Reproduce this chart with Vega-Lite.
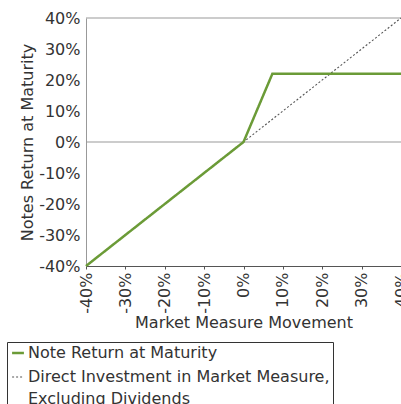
{
  "$schema": "https://vega.github.io/schema/vega-lite/v6.json",
  "autosize": "none",
  "width": 315,
  "height": 248,
  "padding": {"left": 86, "top": 18, "right": 0, "bottom": 138},
  "config": {
    "font": "DejaVu Sans",
    "view": {"stroke": null},
    "axis": {"labelFont": "DejaVu Sans", "titleFont": "DejaVu Sans", "labelFontSize": 16, "titleFontSize": 16, "titleFontWeight": "normal", "labelColor": "#333333", "titleColor": "#333333", "grid": false, "labelOverlap": false}
  },
  "datasets": {
    "lines": [
      {"series": "Direct Investment in Market Measure, Excluding Dividends", "x": -0.4, "y": -0.4},
      {"series": "Direct Investment in Market Measure, Excluding Dividends", "x": 0.4, "y": 0.4},
      {"series": "Note Return at Maturity", "x": -0.4, "y": -0.4},
      {"series": "Note Return at Maturity", "x": 0.0, "y": 0.0},
      {"series": "Note Return at Maturity", "x": 0.0733, "y": 0.22},
      {"series": "Note Return at Maturity", "x": 0.4, "y": 0.22}
    ],
    "refs": [{"y": 0.0}, {"y": 0.4}]
  },
  "layer": [
    {
      "data": {"name": "refs"},
      "mark": {"type": "rule", "color": "#999999", "strokeWidth": 1.2},
      "encoding": {"y": {"field": "y", "type": "quantitative", "scale": {"domain": [-0.4, 0.4], "nice": false},
        "axis": {"values": [-0.4, -0.3, -0.2, -0.1, 0, 0.1, 0.2, 0.3, 0.4], "format": ".0%", "labelExpr": "replace(datum.label, '−', '-')", "labelOverlap": false, "labelBound": false, "title": "Notes Return at Maturity", "domainColor": "#999999", "ticks": false, "labelPadding": 6, "titlePadding": 3}}}
    },
    {
      "data": {"name": "lines"},
      "mark": {"type": "line", "clip": false},
      "encoding": {
        "x": {"field": "x", "type": "quantitative", "scale": {"domain": [-0.4, 0.4], "nice": false},
          "axis": {"values": [-0.4, -0.3, -0.2, -0.1, 0, 0.1, 0.2, 0.3, 0.4], "format": ".0%", "labelExpr": "replace(datum.label, '−', '-')", "labelAngle": -90, "labelOverlap": false, "title": "Market Measure Movement", "domainColor": "#555555", "tickColor": "#555555", "tickSize": 3, "labelPadding": 3, "titlePadding": 1}},
        "y": {"field": "y", "type": "quantitative", "scale": {"domain": [-0.4, 0.4], "nice": false},
          "axis": {"values": [-0.4, -0.3, -0.2, -0.1, 0, 0.1, 0.2, 0.3, 0.4], "format": ".0%", "labelExpr": "replace(datum.label, '−', '-')", "labelOverlap": false, "labelBound": false, "title": "Notes Return at Maturity", "domainColor": "#999999", "ticks": false, "labelPadding": 6, "titlePadding": 3}},
        "color": {"field": "series", "type": "nominal",
          "scale": {"domain": ["Note Return at Maturity", "Direct Investment in Market Measure, Excluding Dividends"], "range": ["#6b9b37", "#555555"]},
          "legend": {"orient": "none", "legendX": -79, "legendY": 324, "title": null, "direction": "vertical",
            "symbolType": "stroke", "symbolSize": 140, "symbolStrokeWidth": 1.5, "labelFontSize": 16, "labelFont": "DejaVu Sans", "labelColor": "#333333",
            "labelExpr": "datum.label == 'Note Return at Maturity' ? datum.label : ['Direct Investment in Market Measure,', 'Excluding Dividends']",
            "strokeColor": "#333333", "padding": 3, "rowPadding": 8, "labelOffset": 2, "labelLimit": 400,
            "encode": {"labels": {"update": {"lineHeight": {"value": 22}}}, "legend": {"update": {"width": {"value": 420}}}}}},
        "strokeDash": {"field": "series", "type": "nominal",
          "scale": {"domain": ["Note Return at Maturity", "Direct Investment in Market Measure, Excluding Dividends"], "range": [[1, 0], [2, 2]]}},
        "strokeWidth": {"field": "series", "type": "nominal",
          "scale": {"domain": ["Note Return at Maturity", "Direct Investment in Market Measure, Excluding Dividends"], "range": [2.5, 1.1]}, "legend": null}
      }
    }
  ]
}
